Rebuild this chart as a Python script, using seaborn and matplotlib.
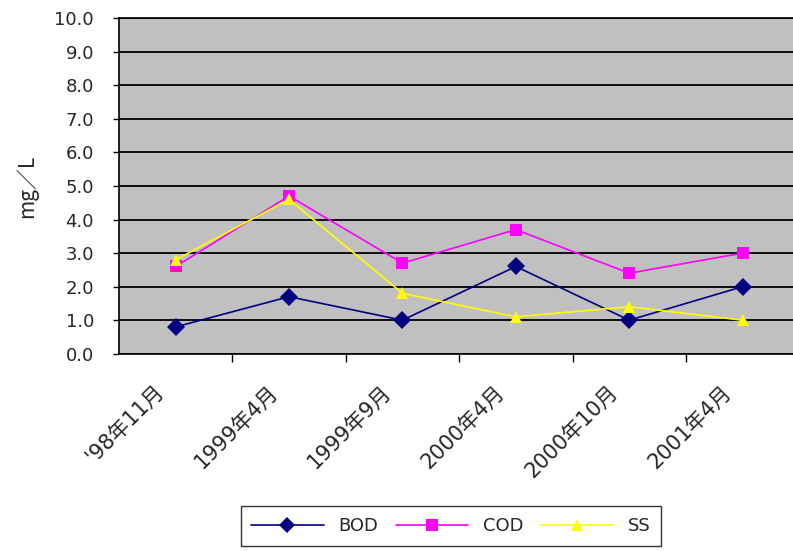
import numpy as np
import pandas as pd
import seaborn as sns
import matplotlib.pyplot as plt
from matplotlib.ticker import FixedLocator, NullFormatter
from matplotlib.transforms import ScaledTranslation

# values (mg/L)
dates = ["'98年11月", "1999年4月", "1999年9月", "2000年4月", "2000年10月", "2001年4月"]
bod = [0.8, 1.7, 1.0, 2.6, 1.0, 2.0]
cod = [2.6, 4.7, 2.7, 3.7, 2.4, 3.0]
ss = [2.8, 4.6, 1.8, 1.1, 1.4, 1.0]

series = ["BOD", "COD", "SS"]
colors = {"BOD": "#000080", "COD": "#FF00FF", "SS": "#FFFF00"}
markers = {"BOD": "D", "COD": "s", "SS": "^"}

df = pd.DataFrame({
    "date": dates * 3,
    "value": bod + cod + ss,
    "item": [s for s in series for _ in dates],
})

sns.set_style("white")
plt.rcParams["font.family"] = ["DejaVu Sans", "Noto Sans CJK JP"]

fig = plt.figure(figsize=(7.93, 5.51), dpi=100)
ax = fig.add_axes([0.150, 0.358, 0.858, 0.609])
ax.set_facecolor("#C0C0C0")

sns.lineplot(
    data=df, x="date", y="value", hue="item", style="item",
    palette=colors, markers=markers, dashes=False, sort=False,
    linewidth=1.2, markersize=9, markeredgewidth=0, ax=ax,
)

yticks = np.arange(0, 10.5, 1.0)
ax.set_ylim(0, 10)
ax.set_xlim(-0.5, len(dates) - 0.5)
ax.set_yticks(yticks)
ax.set_yticklabels([f"{v:.1f}" for v in yticks], fontsize=13)
ax.yaxis.grid(True, color="black", linewidth=1.3)
ax.set_axisbelow(True)

# labels at category centres, tick marks at category boundaries
ax.set_xticks(range(len(dates)))
ax.set_xticklabels(dates, rotation=45, ha="right", rotation_mode="anchor", fontsize=15)
ax.tick_params(axis="x", which="major", length=0, pad=20)
shift = ScaledTranslation(-22 / 100, 0, fig.dpi_scale_trans)
for lab in ax.get_xticklabels():
    lab.set_transform(lab.get_transform() + shift)
ax.xaxis.set_minor_locator(FixedLocator(np.arange(0.5, len(dates) - 0.5, 1.0)))
ax.xaxis.set_minor_formatter(NullFormatter())
ax.tick_params(axis="x", which="minor", length=6, width=1, color="black", direction="out", bottom=True)
ax.tick_params(axis="y", length=4, width=1, color="black", direction="out", left=True, pad=14)

for side in ["left", "bottom", "top", "right"]:
    ax.spines[side].set_color("black")
    ax.spines[side].set_linewidth(1.2)

ax.set_xlabel("")
ax.set_ylabel("mg／L", fontsize=15, labelpad=12, family=["Noto Sans CJK JP", "DejaVu Sans"])

sns.move_legend(
    ax, "center", bbox_to_anchor=(451 / 793, 1 - 526 / 551), bbox_transform=fig.transFigure,
    ncol=3, title=None, frameon=True, fancybox=False, edgecolor="black",
    fontsize=13, handlelength=4.0, columnspacing=1.0, borderpad=0.6,
)
leg = ax.get_legend()
leg.get_frame().set_linewidth(1.0)
for h in leg.legend_handles:
    h.set_markersize(8)

fig.savefig("out.png", dpi=100)
